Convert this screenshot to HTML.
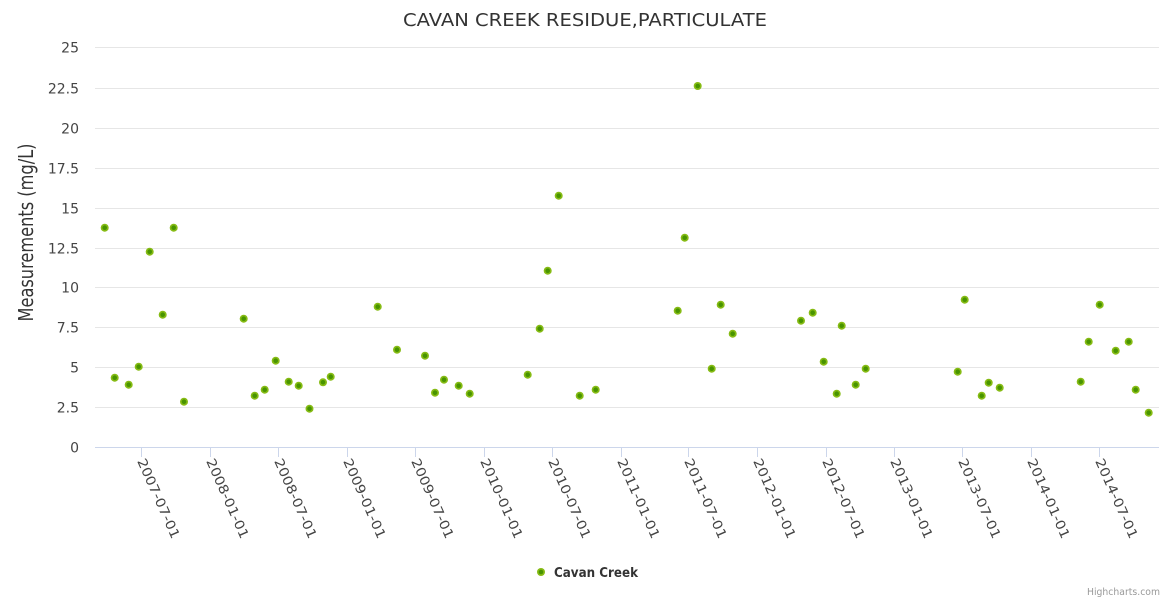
<!DOCTYPE html>
<html>
<head>
<meta charset="utf-8">
<style>
  html,body{margin:0;padding:0;background:#fff;}
  svg{display:block;}
  text{font-family:"DejaVu Sans","Liberation Sans",sans-serif;}
</style>
</head>
<body>
<svg width="1170" height="600" viewBox="0 0 1170 600" xmlns="http://www.w3.org/2000/svg">
  <rect x="0" y="0" width="1170" height="600" fill="#ffffff"/>
  <text x="585" y="26" text-anchor="middle" font-size="18" fill="#333333" textLength="364" lengthAdjust="spacingAndGlyphs">CAVAN CREEK RESIDUE,PARTICULATE</text>
  <g stroke="#e6e6e6" stroke-width="1">
    <line x1="95" y1="47.5" x2="1159" y2="47.5"/>
    <line x1="95" y1="88.5" x2="1159" y2="88.5"/>
    <line x1="95" y1="128.5" x2="1159" y2="128.5"/>
    <line x1="95" y1="168.5" x2="1159" y2="168.5"/>
    <line x1="95" y1="208.5" x2="1159" y2="208.5"/>
    <line x1="95" y1="248.5" x2="1159" y2="248.5"/>
    <line x1="95" y1="287.5" x2="1159" y2="287.5"/>
    <line x1="95" y1="327.5" x2="1159" y2="327.5"/>
    <line x1="95" y1="367.5" x2="1159" y2="367.5"/>
    <line x1="95" y1="407.5" x2="1159" y2="407.5"/>
  </g>
  <g stroke="#ccd6eb" stroke-width="1">
    <line x1="95" y1="447.5" x2="1159" y2="447.5"/>
    <line x1="141.5" y1="447" x2="141.5" y2="457"/>
    <line x1="210.5" y1="447" x2="210.5" y2="457"/>
    <line x1="278.5" y1="447" x2="278.5" y2="457"/>
    <line x1="347.5" y1="447" x2="347.5" y2="457"/>
    <line x1="415.5" y1="447" x2="415.5" y2="457"/>
    <line x1="484.5" y1="447" x2="484.5" y2="457"/>
    <line x1="552.5" y1="447" x2="552.5" y2="457"/>
    <line x1="621.5" y1="447" x2="621.5" y2="457"/>
    <line x1="688.5" y1="447" x2="688.5" y2="457"/>
    <line x1="757.5" y1="447" x2="757.5" y2="457"/>
    <line x1="826.5" y1="447" x2="826.5" y2="457"/>
    <line x1="894.5" y1="447" x2="894.5" y2="457"/>
    <line x1="962.5" y1="447" x2="962.5" y2="457"/>
    <line x1="1031.5" y1="447" x2="1031.5" y2="457"/>
    <line x1="1099.5" y1="447" x2="1099.5" y2="457"/>
  </g>
  <g font-size="14" fill="#444444" text-anchor="end">
    <text x="79" y="52.5">25</text>
    <text x="79" y="93.5">22.5</text>
    <text x="79" y="133.5">20</text>
    <text x="79" y="173.5">17.5</text>
    <text x="79" y="213.5">15</text>
    <text x="79" y="253.5">12.5</text>
    <text x="79" y="292.5">10</text>
    <text x="79" y="332.5">7.5</text>
    <text x="79" y="372.5">5</text>
    <text x="79" y="412.5">2.5</text>
    <text x="79" y="452.5">0</text>
  </g>
  <text transform="translate(33,232.5) rotate(-90)" text-anchor="middle" font-size="20" fill="#333333" textLength="178" lengthAdjust="spacingAndGlyphs">Measurements (mg/L)</text>
  <g font-size="13" fill="#444444">
    <text transform="translate(137,461) rotate(66)" textLength="86" lengthAdjust="spacingAndGlyphs">2007-07-01</text>
    <text transform="translate(206,461) rotate(66)" textLength="86" lengthAdjust="spacingAndGlyphs">2008-01-01</text>
    <text transform="translate(274,461) rotate(66)" textLength="86" lengthAdjust="spacingAndGlyphs">2008-07-01</text>
    <text transform="translate(343,461) rotate(66)" textLength="86" lengthAdjust="spacingAndGlyphs">2009-01-01</text>
    <text transform="translate(411,461) rotate(66)" textLength="86" lengthAdjust="spacingAndGlyphs">2009-07-01</text>
    <text transform="translate(480,461) rotate(66)" textLength="86" lengthAdjust="spacingAndGlyphs">2010-01-01</text>
    <text transform="translate(548,461) rotate(66)" textLength="86" lengthAdjust="spacingAndGlyphs">2010-07-01</text>
    <text transform="translate(617,461) rotate(66)" textLength="86" lengthAdjust="spacingAndGlyphs">2011-01-01</text>
    <text transform="translate(684,461) rotate(66)" textLength="86" lengthAdjust="spacingAndGlyphs">2011-07-01</text>
    <text transform="translate(753,461) rotate(66)" textLength="86" lengthAdjust="spacingAndGlyphs">2012-01-01</text>
    <text transform="translate(822,461) rotate(66)" textLength="86" lengthAdjust="spacingAndGlyphs">2012-07-01</text>
    <text transform="translate(890,461) rotate(66)" textLength="86" lengthAdjust="spacingAndGlyphs">2013-01-01</text>
    <text transform="translate(958,461) rotate(66)" textLength="86" lengthAdjust="spacingAndGlyphs">2013-07-01</text>
    <text transform="translate(1027,461) rotate(66)" textLength="86" lengthAdjust="spacingAndGlyphs">2014-01-01</text>
    <text transform="translate(1095,461) rotate(66)" textLength="86" lengthAdjust="spacingAndGlyphs">2014-07-01</text>
  </g>
  <defs>
    <g id="m">
      <circle cx="0" cy="0" r="4" fill="#86bb14"/>
      <circle cx="0" cy="0" r="2.3" fill="#489400"/>
    </g>
  </defs>
  <g>
    <use href="#m" x="104.7" y="227.7"/>
    <use href="#m" x="114.7" y="377.7"/>
    <use href="#m" x="128.7" y="384.7"/>
    <use href="#m" x="138.7" y="366.7"/>
    <use href="#m" x="149.7" y="251.7"/>
    <use href="#m" x="162.7" y="314.7"/>
    <use href="#m" x="173.7" y="227.7"/>
    <use href="#m" x="184" y="401.7"/>
    <use href="#m" x="243.7" y="318.7"/>
    <use href="#m" x="254.7" y="395.7"/>
    <use href="#m" x="264.7" y="389.7"/>
    <use href="#m" x="275.7" y="360.7"/>
    <use href="#m" x="288.7" y="381.7"/>
    <use href="#m" x="298.7" y="385.7"/>
    <use href="#m" x="309.5" y="408.7"/>
    <use href="#m" x="323" y="382.3"/>
    <use href="#m" x="330.7" y="376.7"/>
    <use href="#m" x="377.7" y="306.7"/>
    <use href="#m" x="397" y="349.7"/>
    <use href="#m" x="425" y="355.7"/>
    <use href="#m" x="435" y="392.7"/>
    <use href="#m" x="444" y="379.7"/>
    <use href="#m" x="458.7" y="385.7"/>
    <use href="#m" x="469.7" y="393.7"/>
    <use href="#m" x="527.7" y="374.7"/>
    <use href="#m" x="539.7" y="328.7"/>
    <use href="#m" x="547.7" y="270.7"/>
    <use href="#m" x="558.7" y="195.7"/>
    <use href="#m" x="579.7" y="395.7"/>
    <use href="#m" x="595.7" y="389.7"/>
    <use href="#m" x="677.7" y="310.7"/>
    <use href="#m" x="684.7" y="237.7"/>
    <use href="#m" x="697.7" y="86"/>
    <use href="#m" x="711.7" y="368.7"/>
    <use href="#m" x="720.7" y="304.7"/>
    <use href="#m" x="732.7" y="333.7"/>
    <use href="#m" x="801" y="320.7"/>
    <use href="#m" x="812.7" y="312.7"/>
    <use href="#m" x="823.7" y="361.7"/>
    <use href="#m" x="836.7" y="393.7"/>
    <use href="#m" x="841.7" y="325.7"/>
    <use href="#m" x="855.7" y="384.7"/>
    <use href="#m" x="865.7" y="368.7"/>
    <use href="#m" x="957.7" y="371.7"/>
    <use href="#m" x="964.7" y="299.7"/>
    <use href="#m" x="981.7" y="395.7"/>
    <use href="#m" x="988.7" y="382.7"/>
    <use href="#m" x="999.7" y="387.7"/>
    <use href="#m" x="1080.7" y="381.7"/>
    <use href="#m" x="1088.7" y="341.7"/>
    <use href="#m" x="1099.7" y="304.7"/>
    <use href="#m" x="1115.7" y="350.7"/>
    <use href="#m" x="1128.7" y="341.7"/>
    <use href="#m" x="1135.7" y="389.7"/>
    <use href="#m" x="1148.7" y="412.7"/>
  </g>
  <use href="#m" x="541" y="572"/>
  <text x="554" y="577" font-family="Liberation Sans, sans-serif" font-size="13" font-weight="bold" fill="#333333" textLength="84" lengthAdjust="spacingAndGlyphs">Cavan Creek</text>
  <text x="1160" y="595" text-anchor="end" font-family="Liberation Sans, sans-serif" font-size="10" fill="#999999" textLength="73" lengthAdjust="spacingAndGlyphs">Highcharts.com</text>
</svg>
</body>
</html>
